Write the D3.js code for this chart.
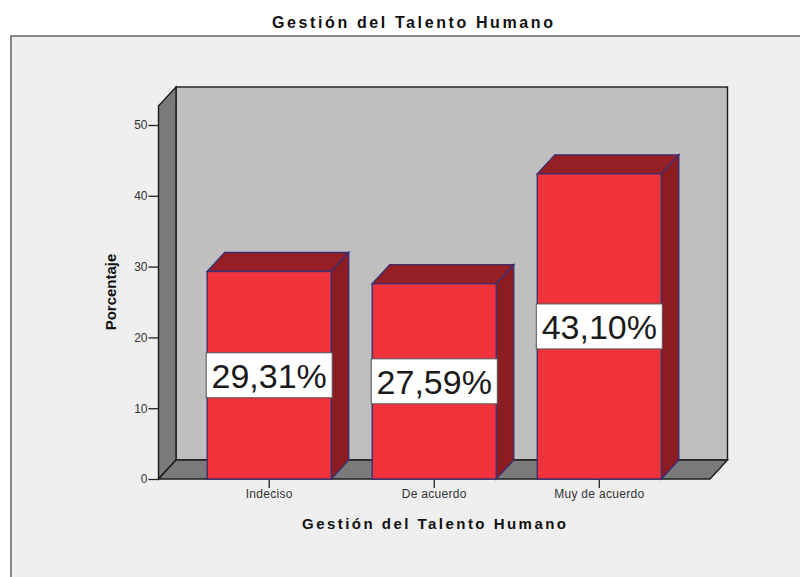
<!DOCTYPE html>
<html>
<head>
<meta charset="utf-8">
<script src="https://d3js.org/d3.v7.min.js"></script>
<style>
  html, body { margin: 0; padding: 0; background: #fff; }
  svg { display: block; font-family: "Liberation Sans", Arial, sans-serif; }
  .axis path { display: none; }
  .axis line { stroke: #222; stroke-width: 1.3; }
  .axis text { font-size: 12px; fill: #333; font-family: "Liberation Sans", Arial, sans-serif; }
</style>
</head>
<body>
<div id="my_dataviz"></div>
<script>
// data
var categories = ["Indeciso", "De acuerdo", "Muy de acuerdo"];
var percentages = [29.31, 27.59, 43.10];
var yTicks = [0, 10, 20, 30, 40, 50];
var chartTitle = "Gestión del Talento Humano";
var xTitle = "Gestión del Talento Humano";
var yTitle = "Porcentaje";

var width = 800, height = 577;

// plot box, front plane of the 3d box
var left = 158.5, right = 710, bottom = 479;
var depthX = 17.5, depthY = 19;
var wallTop = 106;

var svg = d3.select("#my_dataviz")
  .append("svg")
    .attr("width", width)
    .attr("height", height);

var x = d3.scaleBand()
  .domain(categories)
  .range([left, right])
  .paddingInner(0.2485)
  .paddingOuter(0.295);

var y = d3.scaleLinear()
  .domain([0, 50])
  .range([bottom, 125]);

function poly(points) {
  return points.map(function(p) { return p.join(","); }).join(" ");
}

// outer panel, open on the right and at the bottom
svg.append("rect")
  .attr("x", 11).attr("y", 36)
  .attr("width", width - 11 + 5).attr("height", height - 36 + 5)
  .attr("fill", "#efefef")
  .attr("stroke", "#666")
  .attr("stroke-width", 1.5);

// back wall
svg.append("rect")
  .attr("x", left + depthX).attr("y", wallTop - depthY)
  .attr("width", right - left)
  .attr("height", bottom - wallTop)
  .attr("fill", "#bfbfbf")
  .attr("stroke", "#1c1c1c")
  .attr("stroke-width", 1.4);

// side wall
svg.append("polygon")
  .attr("points", poly([[left, wallTop], [left + depthX, wallTop - depthY],
    [left + depthX, bottom - depthY], [left, bottom]]))
  .attr("fill", "#7a7a7a")
  .attr("stroke", "#1c1c1c")
  .attr("stroke-width", 1.4);

// floor
svg.append("polygon")
  .attr("points", poly([[left, bottom], [left + depthX, bottom - depthY],
    [right + depthX, bottom - depthY], [right, bottom]]))
  .attr("fill", "#7a7a7a")
  .attr("stroke", "#1c1c1c")
  .attr("stroke-width", 1.4);

// axes
var yAxis = svg.append("g")
  .attr("class", "axis")
  .attr("transform", "translate(" + left + ",0)")
  .call(d3.axisLeft(y).tickValues(yTicks).tickSize(10).tickPadding(1));

var xAxis = svg.append("g")
  .attr("class", "axis")
  .attr("transform", "translate(0," + bottom + ")")
  .call(d3.axisBottom(x).tickSize(9).tickPadding(1));
xAxis.selectAll("text").style("letter-spacing", "0.3px");

// bars
var bars = svg.append("g")
  .selectAll("g")
  .data(percentages)
  .enter()
  .append("g");

var barStroke = "#3d2f70";
var bw = x.bandwidth();

bars.append("polygon")
  .attr("points", function(d, i) {
    var x0 = x(categories[i]), t = y(d);
    return poly([[x0, t], [x0 + depthX, t - depthY], [x0 + bw + depthX, t - depthY], [x0 + bw, t]]);
  })
  .attr("fill", "#951f25")
  .attr("stroke", barStroke)
  .attr("stroke-width", 1.4);

bars.append("polygon")
  .attr("points", function(d, i) {
    var x0 = x(categories[i]), t = y(d);
    return poly([[x0 + bw, t], [x0 + bw + depthX, t - depthY], [x0 + bw + depthX, bottom - depthY], [x0 + bw, bottom]]);
  })
  .attr("fill", "#8a1c22")
  .attr("stroke", barStroke)
  .attr("stroke-width", 1.4);

bars.append("rect")
  .attr("x", function(d, i) { return x(categories[i]); })
  .attr("y", function(d) { return y(d); })
  .attr("width", bw)
  .attr("height", function(d) { return bottom - y(d); })
  .attr("fill", "#f3333c")
  .attr("stroke", barStroke)
  .attr("stroke-width", 1.4);

// value labels sit at the middle of each bar
bars.append("rect")
  .attr("x", function(d, i) { return x(categories[i]) - 1; })
  .attr("y", function(d) { return y(d / 2) - 22.5; })
  .attr("width", bw + 2)
  .attr("height", 45)
  .attr("fill", "#fff")
  .attr("stroke", "#555")
  .attr("stroke-width", 1);

bars.append("text")
  .attr("x", function(d, i) { return x(categories[i]) + bw / 2; })
  .attr("y", function(d) { return y(d / 2) + 12.5; })
  .attr("text-anchor", "middle")
  .attr("font-size", 34)
  .attr("fill", "#1a1a1a")
  .text(function(d) { return d.toFixed(2).replace(".", ",") + "%"; });

// titles
svg.append("text")
  .attr("x", 412.5).attr("y", 27.5)
  .attr("text-anchor", "middle")
  .attr("font-size", 16)
  .attr("font-weight", "bold")
  .attr("textLength", 281)
  .attr("fill", "#111")
  .text(chartTitle);

svg.append("text")
  .attr("x", 434).attr("y", 529)
  .attr("text-anchor", "middle")
  .attr("font-size", 15)
  .attr("font-weight", "bold")
  .attr("textLength", 264)
  .attr("fill", "#111")
  .text(xTitle);

svg.append("text")
  .attr("transform", "translate(116,292) rotate(-90)")
  .attr("text-anchor", "middle")
  .attr("font-size", 15)
  .attr("font-weight", "bold")
  .attr("fill", "#111")
  .text(yTitle);
</script>
</body>
</html>
